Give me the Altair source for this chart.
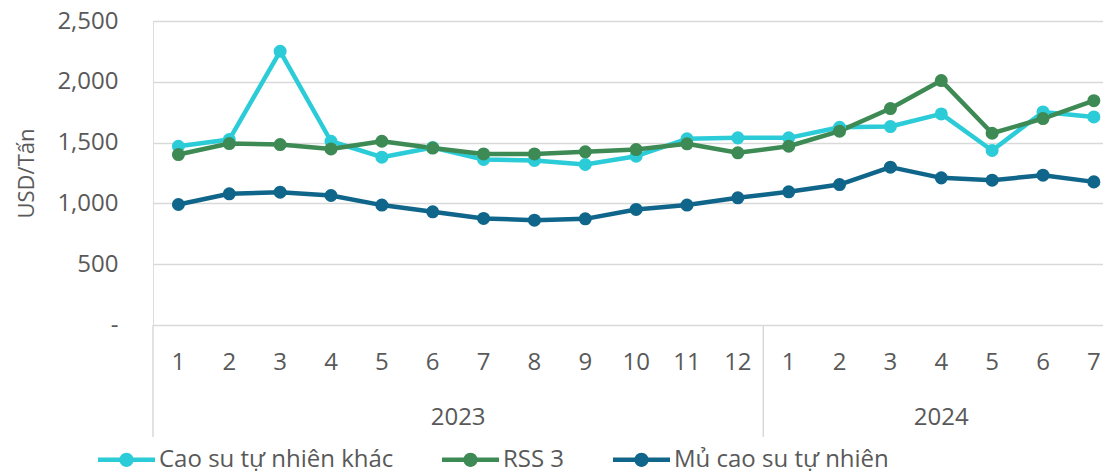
import altair as alt
import pandas as pd

# ---- data ----
months = ["1", "2", "3", "4", "5", "6", "7", "8", "9", "10", "11", "12",
          "1", "2", "3", "4", "5", "6", "7"]
years = ["2023"] * 12 + ["2024"] * 7
series_names = ["Cao su tự nhiên khác", "RSS 3", "Mủ cao su tự nhiên"]
cao_su_khac = [1470, 1525, 2251, 1511, 1380, 1460, 1361, 1353, 1320, 1388, 1531, 1539,
               1539, 1626, 1632, 1736, 1435, 1752, 1711]
rss3 = [1402, 1492, 1484, 1448, 1511, 1455, 1407, 1407, 1424, 1443, 1490, 1416,
        1470, 1594, 1780, 2010, 1577, 1698, 1845]
mu_cao_su = [991, 1079, 1092, 1065, 986, 931, 876, 862, 873, 950, 986, 1046,
             1095, 1155, 1298, 1210, 1191, 1232, 1177]
year_labels = ["2023", "2024"]
year_centers = [5.5, 15.0]
separators = [-0.5, 11.5]
colors = ["#2BCCD8", "#3E8A55", "#10668A"]
y_ticks = [0, 500, 1000, 1500, 2000, 2500]

idx = list(range(len(months)))
rows = []
for k, (name, vals) in enumerate(zip(series_names, [cao_su_khac, rss3, mu_cao_su])):
    for i, v in zip(idx, vals):
        rows.append({"idx": i, "series": name, "value": v, "order": k})
df = pd.DataFrame(rows)
months_df = pd.DataFrame({"idx": idx, "month": months, "year": years})
years_df = pd.DataFrame({"idx": year_centers, "year": year_labels})
sep_df = pd.DataFrame({"idx": separators})

FONT = "Open Sans"
GRAY = "#595959"
GRID = "#D9D9D9"

xscale = alt.Scale(domain=[-0.5, 18.18], nice=False, zero=False)
x_enc = alt.X("idx:Q", scale=xscale, axis=None)
y_enc = alt.Y("value:Q",
              scale=alt.Scale(domain=[0, 2500], nice=False),
              axis=alt.Axis(values=y_ticks,
                            labelExpr="datum.value == 0 ? '-' : format(datum.value, ',')",
                            grid=True, gridColor=GRID, gridWidth=1.5,
                            domain=False, ticks=False,
                            labelFontSize=24, labelColor=GRAY, labelFont=FONT,
                            labelPadding=35,
                            title="USD/Tấn", titleFontSize=22, titleColor=GRAY,
                            titleFont=FONT, titleFontWeight="normal",
                            titlePadding=18))

# legend symbol: a short thick line with a dot in the middle (filled shapes)
legend_symbol = ("M-1,-0.08L1,-0.08L1,0.08L-1,0.08Z"
                 "M0.25,0A0.25,0.25,0,1,1,-0.25,0A0.25,0.25,0,1,1,0.25,0Z")

lines = alt.Chart(df).mark_line(strokeWidth=4.5, strokeJoin="round").encode(
    x=x_enc, y=y_enc,
    stroke=alt.Stroke("series:N",
                      scale=alt.Scale(domain=series_names, range=colors),
                      legend=None),
    order=alt.Order("idx:Q"),
)

points = alt.Chart(df).mark_point(filled=True, size=170, opacity=1).encode(
    x=x_enc, y=y_enc,
    fill=alt.Fill("series:N",
                  scale=alt.Scale(domain=series_names, range=colors),
                  legend=alt.Legend(
                      title=None, orient="none", direction="horizontal",
                      legendX=-55, legendY=410,
                      symbolType=legend_symbol, symbolSize=3249,
                      symbolStrokeWidth=0, symbolOpacity=1,
                      labelFontSize=24, labelColor=GRAY, labelFont=FONT,
                      labelLimit=500,
                      labelOffset=4, columnPadding=48)),
)

month_text = alt.Chart(months_df).mark_text(
    fontSize=24, font=FONT, color=GRAY, baseline="middle", align="center"
).encode(x=x_enc, y=alt.value(342), text="month:N")

year_text = alt.Chart(years_df).mark_text(
    fontSize=24, font=FONT, color=GRAY, baseline="middle", align="center"
).encode(x=x_enc, y=alt.value(397), text="year:N")

seps = alt.Chart(sep_df).mark_rule(color=GRID, strokeWidth=1.5).encode(
    x=x_enc, y=alt.value(304), y2=alt.value(416)
)

chart = alt.layer(seps, month_text, year_text, lines, points).resolve_scale(
    stroke="independent", fill="independent"
).properties(
    width=950, height=304,
    autosize=alt.AutoSizeParams(type="none"),
    padding={"left": 145, "top": 13, "right": 0, "bottom": 155},
).configure_view(stroke=None).configure(font=FONT)

chart.save("out.html", embed_options={"renderer": "svg", "actions": False})
